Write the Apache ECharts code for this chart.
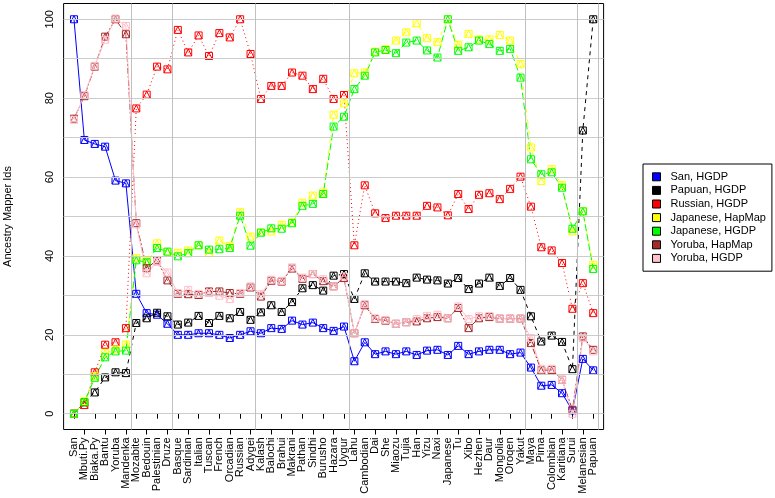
<!DOCTYPE html>
<html><head><meta charset="utf-8">
<script src="https://cdn.jsdelivr.net/npm/echarts@6/dist/echarts.min.js"></script>
<style>html,body{margin:0;padding:0;background:#fff}#c{width:775px;height:498px}</style>
</head><body><div id="c"></div>
<script>
const categories = ["San","Mbuti.Py","Biaka.Py","Bantu","Yoruba","Mandenka","Mozabite","Bedouin","Palestinian","Druze","Basque","Sardinian","Italian","Tuscan","French","Orcadian","Russian","Adygei","Kalash","Balochi","Brahui","Makrani","Pathan","Sindhi","Burusho","Hazara","Uygur","Lahu","Cambodian","Dai","She","Miaozu","Tujia","Han","Yizu","Naxi","Japanese","Tu","Xibo","Hezhen","Daur","Mongolia","Oroqen","Yakut","Maya","Pima","Colombian","Karitiana","Surui","Melanesian","Papuan"];

const sanHGDP = [100,69.4,68.4,67.7,59.1,58.4,30.4,25.5,25.1,22.8,20,20,20.4,20.4,20,19.2,20,20.9,20.4,21.7,21.5,23.6,22.6,23.1,21.7,21,22.1,13.3,18.1,15.1,15.8,15.1,15.8,14.9,16,16.2,14.9,17.2,15.1,15.8,16.2,16.2,15.1,15.5,11.7,7.1,7.3,5.2,0.8,13.9,11];
const papuanHGDP = [0,2.9,5.4,9.2,10.5,10.3,23,24.2,25.6,24.7,22.6,23.1,24.8,23,24.8,24.2,25.8,23.8,25.7,27.5,25.8,28.3,31.8,32.6,31.2,35,35.4,29.1,35.6,33.5,33.5,33.5,33.1,34.5,34,33.8,33,34.4,31.6,33,34.5,32.4,34.4,31.4,24.7,18.3,19.8,18.2,11.3,71.8,100];
const russianHGDP = [0,2.2,10.5,17.5,18.1,21.7,77.4,80.9,88,87.3,97.3,91.6,95.9,90.7,96.5,95.4,100,91.2,79.8,83.1,83.1,86.5,85.7,82.3,84.9,79.8,80.8,42.7,57.9,50.8,49.6,50.2,50.2,50.2,52.7,52.3,50.3,55.7,51.9,55.5,55.9,54.4,57,60.1,52.5,42.2,41.4,38.2,26.6,33.1,25.5];
const japaneseHapMap = [0,3.2,9.5,15.4,16.3,17.5,39.5,38.8,43.2,41,40.8,41.4,42.7,40.7,43.9,42.5,51.1,44.9,46,46.2,47.9,48.5,53.5,55.3,56.1,75.8,78.7,86.3,86.5,91.8,92.4,94.6,96.7,99,95.2,94.2,100,93.5,96.3,94.9,94.9,96,94.6,88.7,67.5,59,62,58,46.2,51.3,37.8];
const japaneseHGDP = [0,2.9,9.1,14.3,15.8,16,38.9,38.4,42,41.1,39.9,40.7,42.7,41.6,41.7,42,50.2,42.6,45.9,47,46.9,48.3,52.7,53.2,55.7,72.8,75.3,82.3,85.7,91.6,92.2,91.4,94.1,94.6,92.1,90.3,100,92,92.9,94.6,93.7,92,92.5,85.2,64.5,60.7,61.2,57.3,46.9,51.3,36.7];
const yorubaHapMap = [74.8,80.5,88,95.6,100,96.2,48.3,36.9,38.9,33.8,30.4,30.3,30.1,31,31,30.6,30.4,32,29.7,33.7,33.5,36.8,34.2,35.4,33.6,32.3,34.4,20.4,27.5,24,23.6,22.8,23.2,23.4,24.2,24.5,24.2,26.8,21.7,24.2,24.5,24.1,24.1,24.1,17.9,11,11.1,8.6,1,19.6,16.2];
const yorubaHGDP = [74.5,80.8,88.2,94.8,100.2,98.3,48,35.6,38.5,35.8,30.6,31.4,30.4,30.6,29.9,29.1,30.6,32.3,30.3,34,33.7,37.1,34.5,35.4,34.1,32.3,34.8,20.4,27.8,24.2,23.8,22.8,23.2,24,24.8,25.1,24.2,27.2,24,24.7,24.8,24.1,24.1,24.1,19.2,11.4,11.4,8.6,0,19.2,15.8];

const seriesNames = ["San, HGDP","Papuan, HGDP","Russian, HGDP","Japanese, HapMap","Japanese, HGDP","Yoruba, HapMap","Yoruba, HGDP"];
const seriesValues = [sanHGDP,papuanHGDP,russianHGDP,japaneseHapMap,japaneseHGDP,yorubaHapMap,yorubaHGDP];
const yTicks = [0,20,40,60,80,100];
const gridLevels = [0,10,20,30,40,50,60,70,80,90,100];
const groupBreaks = [5.5,9.5,17.5,26.5,43.5,48.5,50.5];

const colors = ['#0000FF','#000000','#FF0000','#FFFF00','#00FF00','#A52A2A','#FFC0CB'];
const dashes = ['solid',[4,4],[1,3],[1,3,4,3],[7,3],[2,2,6,2],'solid'];
const FONT = '"Liberation Sans", Arial, Helvetica, sans-serif';
const marker = 'path://M0,0L10,0L10,10L0,10Z M0,10L5,0L10,10';
const evenIdx = categories.map((c,i)=>i).filter(i=>i%2===0);
const oddIdx = categories.map((c,i)=>i).filter(i=>i%2===1);

const series = [{
  type:'line', data:[], silent:true, symbol:'none',
  markLine:{silent:true, symbol:'none', label:{show:false}, animation:false,
    data: gridLevels.map(v=>({yAxis:v, lineStyle:{color:'#cccccc',width:1,type:'solid'}}))
      .concat(groupBreaks.map(v=>({xAxis:v, lineStyle:{color:'#c0c0c0',width:1,type:'solid'}})))}
}];
seriesNames.forEach((n,k)=>{
  series.push({
    name:n, type:'line', data: seriesValues[k].map((v,i)=>[i,v]),
    symbol: marker, symbolSize: 7, showAllSymbol:true,
    itemStyle:{color:'rgba(0,0,0,0)', borderColor: colors[k], borderWidth:1},
    lineStyle:{color: colors[k], width:1, type: dashes[k]},
    emphasis:{disabled:true}, animation:false
  });
});

function xAx(vals){
  return {type:'value', min:-1, max:51, position:'bottom', offset:0,
    axisLine:{show:false}, splitLine:{show:false},
    axisTick:{show:true, customValues: vals, length:5, lineStyle:{color:'#000'}},
    axisLabel:{customValues: vals, rotate:90, fontSize:11, margin:8, color:'#000', fontFamily:FONT,
      hideOverlap:false, showMinLabel:true, showMaxLabel:true,
      formatter: v => categories[Math.round(v)] || ''}};
}

const chart = echarts.init(document.getElementById('c'), null, {renderer:'canvas'});
chart.setOption({
  animation:false,
  backgroundColor:'#fff',
  grid:{left:63.6, right:171.4, top:3.5, bottom:68.5, show:true, borderColor:'#000', borderWidth:1, containLabel:false, outerBoundsMode:'none'},
  xAxis:[xAx(evenIdx), xAx(oddIdx)],
  yAxis:{type:'value', min:-4, max:104,
    axisLine:{show:false}, splitLine:{show:false},
    axisTick:{show:true, customValues: yTicks, length:5, lineStyle:{color:'#000'}},
    axisLabel:{customValues: yTicks, rotate:90, fontSize:11, margin:8, color:'#000', fontFamily:FONT,
      showMinLabel:true, showMaxLabel:true},
    name:'Ancestry Mapper Ids', nameLocation:'middle', nameGap:50,
    nameTextStyle:{fontSize:11, fontFamily:FONT, color:'#000'}},
  legend:{orient:'vertical', left:643, top:164, padding:[6,6,6,9], itemGap:0, itemWidth:8, itemHeight:8,
    borderColor:'#000', borderWidth:1, selectedMode:false,
    textStyle:{fontFamily:FONT, fontSize:11, color:'#000', lineHeight:13.6, padding:[0,0,0,5]},
    data: seriesNames.map((n,k)=>({name:n, icon:'rect', itemStyle:{color:colors[k], borderColor:'#000', borderWidth:1}}))},
  series: series
});
</script></body></html>
